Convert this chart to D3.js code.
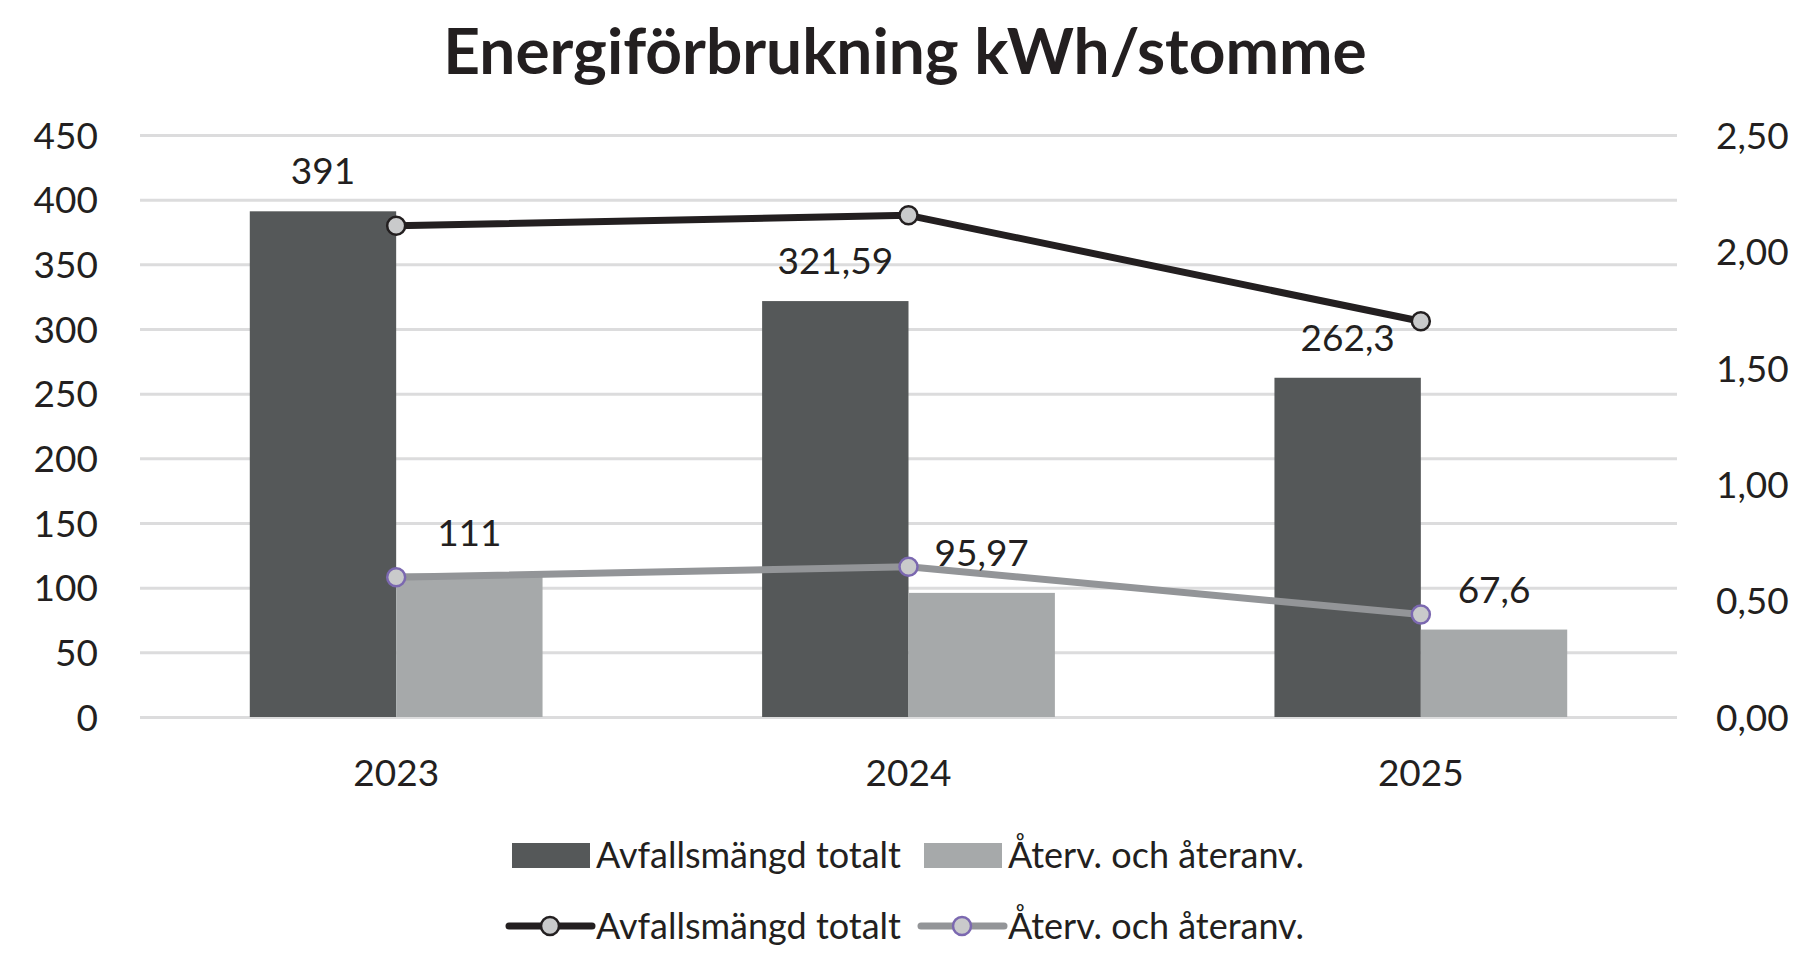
<!DOCTYPE html>
<html>
<head>
<meta charset="utf-8">
<script src="https://cdn.jsdelivr.net/npm/d3@7"></script>
<style>
 body { margin: 0; background: #fff; }
 text { font-family: Lato, "Noto Sans", sans-serif; fill: #231f20; }
 .grid line { stroke: #dcdcdd; stroke-width: 3; }
 .grid path { display: none; }
 .axis path, .axis line { display: none; }
</style>
</head>
<body>
<svg width="1797" height="953"></svg>
<script>
const years = ["2023", "2024", "2025"];
const totalKwh = [391, 321.59, 262.3];
const recycledKwh = [111, 95.97, 67.6];
const totalRatio = [2.11, 2.155, 1.70];
const recycledRatio = [0.60, 0.645, 0.44];
const seriesNames = ["Avfallsmängd totalt", "Återv. och återanv."];
const leftTicks = [0, 50, 100, 150, 200, 250, 300, 350, 400, 450];
const rightTicks = [0, 0.5, 1, 1.5, 2, 2.5];

const barColors = ["#555859", "#a6a9aa"];
const lineColors = ["#231f20", "#939598"];
const markerStroke = ["#231f20", "#7b68b0"];

const plotLeft = 140, plotRight = 1677, plotTop = 135, plotBottom = 717;
const width = plotRight - plotLeft;
const height = plotBottom - plotTop;

const sv = d3.formatLocale({ decimal: ",", thousands: " ", grouping: [3], currency: ["", " kr"] });
const comma = v => String(v).replace(".", ",");

const svg = d3.select("svg");

svg.append("text")
 .attr("x", 905)
 .attr("y", 74)
 .attr("text-anchor", "middle")
 .attr("font-size", 64)
 .attr("font-weight", 700)
 .text("Energiförbrukning kWh/stomme");

const chart = svg.append("g").attr("transform", `translate(${plotLeft},${plotTop})`);

const xScale = d3.scaleBand().domain(years).range([0, width]);
const barW = xScale.bandwidth() / 3.5;
const yScale = d3.scaleLinear().domain([0, 450]).range([height, 0]);
const y2Scale = d3.scaleLinear().domain([0, 2.5]).range([height, 0]);

// gridlines
chart.append("g")
 .attr("class", "grid")
 .call(d3.axisLeft(yScale).tickValues(leftTicks).tickSize(-width).tickFormat(""));

// left axis labels
chart.append("g")
 .attr("class", "axis")
 .attr("transform", "translate(-39,0)")
 .call(d3.axisLeft(yScale).tickValues(leftTicks).tickSize(0).tickFormat(sv.format("d")))
 .selectAll("text")
 .attr("font-size", 37)
 .attr("dy", "0.36em");

// right axis labels
chart.append("g")
 .attr("class", "axis")
 .attr("transform", `translate(${width + 36},0)`)
 .call(d3.axisRight(y2Scale).tickValues(rightTicks).tickSize(0).tickFormat(sv.format(".2f")))
 .selectAll("text")
 .attr("font-size", 37)
 .attr("dy", "0.36em");

// category axis
chart.append("g")
 .attr("class", "axis")
 .attr("transform", `translate(0,${height + 33})`)
 .call(d3.axisBottom(xScale).tickSize(0))
 .selectAll("text")
 .attr("font-size", 37)
 .attr("dy", "0.9em");

const center = d => xScale(d) + xScale.bandwidth() / 2;

// bars
const barSeries = [totalKwh, recycledKwh];
barSeries.forEach((vals, s) => {
 chart.selectAll(null)
  .data(years)
  .enter()
  .append("rect")
  .attr("x", (d, i) => center(d) - barW + s * barW)
  .attr("y", (d, i) => yScale(vals[i]))
  .attr("width", barW)
  .attr("height", (d, i) => height - yScale(vals[i]))
  .attr("fill", barColors[s]);
});

// lines
const lineSeries = [totalRatio, recycledRatio];
lineSeries.forEach((vals, s) => {
 const line = d3.line()
  .x((d, i) => center(years[i]))
  .y(d => y2Scale(d));
 chart.append("path")
  .datum(vals)
  .attr("d", line)
  .attr("fill", "none")
  .attr("stroke", lineColors[s])
  .attr("stroke-width", 7)
  .attr("stroke-linejoin", "round");
 chart.selectAll(null)
  .data(vals)
  .enter()
  .append("circle")
  .attr("cx", (d, i) => center(years[i]))
  .attr("cy", d => y2Scale(d))
  .attr("r", 9)
  .attr("fill", "#c9cacb")
  .attr("stroke", markerStroke[s])
  .attr("stroke-width", 2.5);
});

// bar value labels
barSeries.forEach((vals, s) => {
 chart.selectAll(null)
  .data(years)
  .enter()
  .append("text")
  .attr("x", d => center(d) - barW / 2 + s * barW)
  .attr("y", (d, i) => yScale(vals[i]) - 27)
  .attr("text-anchor", "middle")
  .attr("font-size", 37)
  .text((d, i) => comma(vals[i]));
});

// legend
const legend = svg.append("g");
const legendX = [512, 924];
seriesNames.forEach((name, s) => {
 legend.append("rect")
  .attr("x", legendX[s])
  .attr("y", 843)
  .attr("width", 78)
  .attr("height", 25)
  .attr("fill", barColors[s]);
 legend.append("text")
  .attr("x", legendX[s] + 84)
  .attr("y", 868)
  .attr("font-size", 36)
  .text(name);

 legend.append("line")
  .attr("x1", legendX[s] - 3)
  .attr("x2", legendX[s] + 80)
  .attr("y1", 926)
  .attr("y2", 926)
  .attr("stroke", lineColors[s])
  .attr("stroke-width", 7)
  .attr("stroke-linecap", "round");
 legend.append("circle")
  .attr("cx", legendX[s] + 38)
  .attr("cy", 926)
  .attr("r", 9)
  .attr("fill", "#c9cacb")
  .attr("stroke", markerStroke[s])
  .attr("stroke-width", 2.5);
 legend.append("text")
  .attr("x", legendX[s] + 84)
  .attr("y", 939)
  .attr("font-size", 36)
  .text(name);
});
</script>
</body>
</html>
